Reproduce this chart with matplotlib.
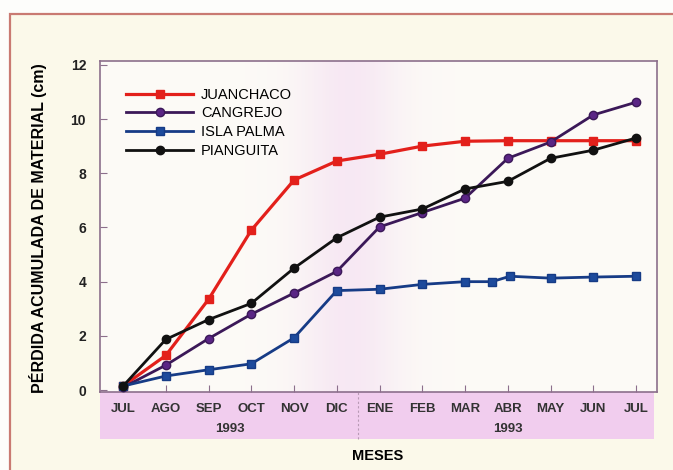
import numpy as np
import matplotlib.pyplot as plt
from matplotlib.patches import Rectangle
import matplotlib.transforms as mtransforms

plt.rcParams['font.family'] = ['Liberation Sans', 'DejaVu Sans']

meses = ['JUL', 'AGO', 'SEP', 'OCT', 'NOV', 'DIC', 'ENE', 'FEB', 'MAR', 'ABR', 'MAY', 'JUN', 'JUL']
x_mes = np.arange(len(meses))

juanchaco = [0.15, 1.28, 3.35, 5.9, 7.75, 8.45, 8.7, 9.0, 9.18, 9.2, 9.2, 9.2, 9.2]
cangrejo = [0.1, 0.92, 1.9, 2.8, 3.58, 4.38, 6.02, 6.55, 7.08, 8.55, 9.15, 10.15, 10.62]
pianguita = [0.15, 1.87, 2.6, 3.2, 4.5, 5.62, 6.38, 6.68, 7.42, 7.7, 8.55, 8.85, 9.3]
# isla palma tiene una medicion extra entre MAR y ABR
x_palma = [0, 1, 2, 3, 4, 5, 6, 7, 8, 8.63, 9.05, 10, 11, 12]
isla_palma = [0.15, 0.52, 0.75, 0.97, 1.93, 3.67, 3.72, 3.9, 4.0, 4.0, 4.2, 4.13, 4.17, 4.2]

crema = '#fbf9ea'
rosa = '#f1cdee'
borde = '#8c6f8c'

fig = plt.figure(figsize=(6.73, 4.70), dpi=100, facecolor='#fdfdfb')
# marco de la pagina
fig.patches.append(Rectangle((10 / 673, -0.1), 1.2, 1 - 14 / 470 + 0.1, transform=fig.transFigure,
                             facecolor=crema, edgecolor='#c97a72', linewidth=1.6, zorder=-10))

ax = fig.add_axes([100 / 673, 1 - 392 / 470, 557 / 673, 331 / 470])
ax.set_facecolor('#fdfdf7')
ax.set_xlim(-0.54, 12.49)
ax.set_ylim(-0.07, 12.14)

# sombreado rosado alrededor de DIC-ENE
xs = np.linspace(-0.54, 12.49, 400)
alpha = 0.05 + 0.33 * np.exp(-((xs - 5.3) / 1.2) ** 2)
img = np.zeros((1, len(xs), 4))
img[..., 0] = 0.93
img[..., 1] = 0.78
img[..., 2] = 0.93
img[..., 3] = alpha
ax.imshow(img, extent=[-0.54, 12.49, -0.07, 12.14], aspect='auto', zorder=0)

ax.plot(x_mes, juanchaco, color='#e3201b', marker='s', markersize=6, linewidth=2.3, label='JUANCHACO', zorder=3)
ax.plot(x_mes, cangrejo, color='#3b1858', marker='o', markersize=6, markerfacecolor='#5a2585',
        linewidth=2.0, label='CANGREJO', zorder=3)
ax.plot(x_palma, isla_palma, color='#163b86', marker='s', markersize=6, markerfacecolor='#1d4a9c',
        linewidth=2.0, label='ISLA PALMA', zorder=3)
ax.plot(x_mes, pianguita, color='#111111', marker='o', markersize=6, linewidth=2.0, label='PIANGUITA', zorder=3)

ax.legend(loc='upper left', bbox_to_anchor=(0.005, 0.99), frameon=False, fontsize=10.5,
          handlelength=4.6, labelspacing=0.32, handletextpad=0.55, borderaxespad=1.2)

for s in ax.spines.values():
    s.set_color(borde)
    s.set_linewidth(1.2)

ax.set_yticks([0, 2, 4, 6, 8, 10, 12])
ax.set_xticks(x_mes)
ax.set_xticklabels([])
ax.tick_params(axis='both', direction='in', length=5, color=borde)
ax.tick_params(axis='y', labelsize=10, pad=10)
for t in ax.get_yticklabels():
    t.set_fontweight('bold')
    t.set_color('#222222')

# franja rosada de meses
ax.add_patch(Rectangle((0, -0.142), 0.995, 0.142, transform=ax.transAxes, facecolor=rosa,
                       edgecolor='none', clip_on=False, zorder=1))
trans = mtransforms.blended_transform_factory(ax.transData, ax.transAxes)
ax.plot([5.5, 5.5], [-0.142, 0], transform=trans, color='#b89ab5', linestyle=(0, (2, 2)),
        linewidth=0.8, clip_on=False, zorder=2)
for xi, m in zip(x_mes, meses):
    ax.text(xi, -0.05, m, transform=trans, ha='center', va='center', fontsize=9.5,
            fontweight='bold', color='#333333')
ax.text(2.5, -0.112, '1993', transform=trans, ha='center', va='center', fontsize=9.5,
        fontweight='bold', color='#333333')
ax.text(9.0, -0.112, '1993', transform=trans, ha='center', va='center', fontsize=9.5,
        fontweight='bold', color='#333333')

fig.text(378 / 673, 1 - 456 / 470, 'MESES', ha='center', va='center', fontsize=10.5, fontweight='bold')
fig.text(38 / 673, 1 - 228 / 470, 'PÉRDIDA ACUMULADA DE MATERIAL (cm)', rotation=90, ha='center',
         va='center', fontsize=11.5, fontweight='bold')

fig.savefig('out.png', dpi=100, facecolor=fig.get_facecolor())
